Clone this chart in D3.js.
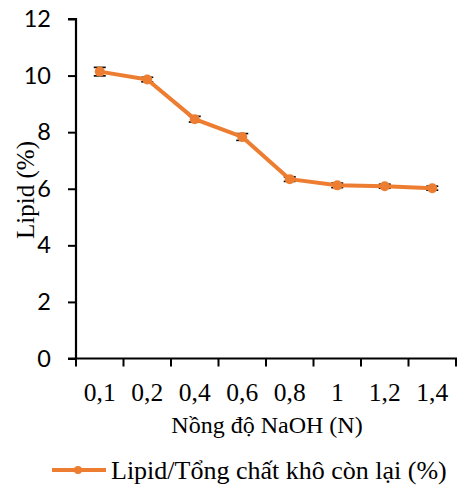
<!DOCTYPE html>
<html><head><meta charset="utf-8">
<script src="https://cdn.jsdelivr.net/npm/d3@7"></script>
<style>body{margin:0;background:#fff}svg{display:block}</style>
</head><body>
<script>
const categories = ["0,1","0,2","0,4","0,6","0,8","1","1,2","1,4"];
const values = [10.14, 9.86, 8.46, 7.83, 6.34, 6.12, 6.09, 6.02];
const errors = [0.15, 0.08, 0.1, 0.12, 0.08, 0.08, 0.07, 0.07];
const yTicks = [0, 2, 4, 6, 8, 10, 12];
const seriesName = "Lipid/Tổng chất khô còn lại (%)";
const xTitle = "Nồng độ NaOH (N)";
const yTitle = "Lipid (%)";

const W = 457, H = 485;
const orange = "#ED7D31";
const svg = d3.select("body").append("svg").attr("width", W).attr("height", H);

const x = d3.scaleBand().domain(categories).range([76, 456]);
const y = d3.scaleLinear().domain([0, 12]).range([358.5, 19]);

// y axis
const yAxis = d3.axisLeft(y).tickValues(yTicks).tickSize(8).tickPadding(17).tickFormat(d3.format("d"));
const gy = svg.append("g").attr("transform", "translate(76,0)").call(yAxis);
gy.select(".domain").attr("stroke", "#000").attr("stroke-width", 2.2).attr("d", `M-8,${y(12)}H0V${y(0)}`);
gy.selectAll(".tick line").attr("stroke", "#000").attr("stroke-width", 2);
gy.selectAll(".tick text").attr("font-family", "Lato, sans-serif").attr("font-size", 23.5).attr("fill", "#000");

// x axis
const gx = svg.append("g").attr("transform", `translate(0,${y(0)})`);
gx.append("line").attr("x1", 68).attr("x2", 457).attr("y1", 0).attr("y2", 0).attr("stroke", "#000").attr("stroke-width", 2.2);
const bounds = categories.map(c => x(c)).concat([x(categories[categories.length-1]) + x.bandwidth()]);
gx.selectAll("line.tk").data(bounds).enter().append("line").attr("class","tk")
  .attr("x1", d => Math.min(d, 456)).attr("x2", d => Math.min(d, 456)).attr("y1", 0).attr("y2", 8)
  .attr("stroke", "#000").attr("stroke-width", 2);
gx.selectAll("text").data(categories).enter().append("text")
  .attr("x", d => x(d) + x.bandwidth()/2).attr("y", 42)
  .attr("text-anchor", "middle").attr("font-family", "'Liberation Serif', serif").attr("font-size", 25.5)
  .attr("fill", "#000").text(d => d);

// titles
svg.append("text").attr("x", 267).attr("y", 433).attr("text-anchor", "middle")
  .attr("font-family", "'Liberation Serif', serif").attr("font-size", 24).text(xTitle);
svg.append("text").attr("transform", "translate(34,190) rotate(-90)").attr("text-anchor", "middle")
  .attr("font-family", "'Liberation Serif', serif").attr("font-size", 25).text(yTitle);

// error bars
const cx = d => x(d) + x.bandwidth()/2;
const eb = svg.append("g").attr("stroke", "#000").attr("stroke-width", 1.6);
categories.forEach((c, i) => {
  const top = y(values[i] + errors[i]), bot = y(values[i] - errors[i]);
  eb.append("line").attr("x1", cx(c)).attr("x2", cx(c)).attr("y1", top).attr("y2", bot);
  eb.append("line").attr("x1", cx(c)-6).attr("x2", cx(c)+6).attr("y1", top).attr("y2", top);
  eb.append("line").attr("x1", cx(c)-6).attr("x2", cx(c)+6).attr("y1", bot).attr("y2", bot);
});

// line
const line = d3.line().x((d, i) => cx(categories[i])).y(d => y(d));
svg.append("path").datum(values).attr("d", line).attr("fill", "none")
  .attr("stroke", orange).attr("stroke-width", 4).attr("stroke-linejoin", "round");
svg.selectAll("circle.pt").data(values).enter().append("circle").attr("class","pt")
  .attr("cx", (d, i) => cx(categories[i])).attr("cy", d => y(d)).attr("r", 5).attr("fill", orange);

// legend
svg.append("line").attr("x1", 52).attr("x2", 106).attr("y1", 470).attr("y2", 470)
  .attr("stroke", orange).attr("stroke-width", 4);
svg.append("circle").attr("cx", 78).attr("cy", 470).attr("r", 4).attr("fill", orange);
svg.append("text").attr("x", 111).attr("y", 479).attr("font-family", "'Liberation Serif', serif")
  .attr("font-size", 26).attr("fill", "#000").text(seriesName);
</script>
</body></html>
